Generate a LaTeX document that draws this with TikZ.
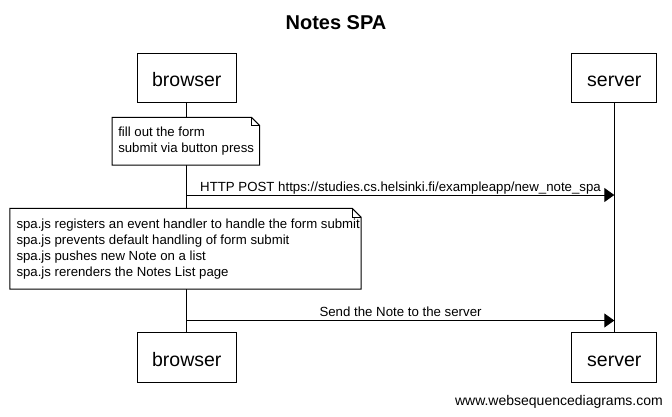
\documentclass[tikz,border=0pt]{standalone}
\usepackage{fontspec}
\setmainfont{Liberation Sans}
\usetikzlibrary{arrows.meta,calc}
\begin{document}
\begin{tikzpicture}[x=1pt,y=-1pt,
  actor/.style={draw,line width=1pt,minimum height=49.5pt,inner sep=0pt,
    text height=17pt,text depth=0pt,font=\fontsize{19.5}{22}\selectfont,fill=white},
  notebg/.style={inner sep=0pt},
  noteshape/.style={draw,line width=1pt,fill=white,line join=miter},
  notetext/.style={inner sep=0pt,align=left,anchor=west,font=\fontsize{13.2}{16}\selectfont},
  msg/.style={line width=1pt,-{Triangle[length=10pt,width=14pt]}},
  lbl/.style={font=\fontsize{13.25}{15}\selectfont,inner sep=0pt,anchor=base,yshift=4pt},
  life/.style={line width=1pt}]
\useasboundingbox (0,0) rectangle (672,416);
\fill[white] (0,0) rectangle (672,416);

\node[font=\bfseries\fontsize{20}{24}\selectfont,inner sep=0pt] (title) at (336,22.5) {Notes SPA};

\node[actor,minimum width=99.5pt] (bt) at (186.75,77.75) {browser};
\node[actor,minimum width=85.3pt] (st) at (614.3,77.75) {server};
\node[actor,minimum width=99.5pt] (bb) at (186.75,357.5) {browser};
\node[actor,minimum width=85.3pt] (sb) at (614.3,357.5) {server};

\draw[life] (bt.south) -- (bb.north);
\draw[life] (st.south) -- (sb.north);

% note 1
\node[notebg,minimum width=147pt,minimum height=47.3pt] (n1) at (185.8,141.3) {};
\draw[noteshape] (n1.north west) -- ($(n1.north east)+(-8,0)$) -- ($(n1.north east)+(0,8)$)
  -- (n1.south east) -- (n1.south west) -- cycle;
\draw[line width=0.8pt] ($(n1.north east)+(-8,0)$) -- ($(n1.north east)+(-8,8)$) -- ($(n1.north east)+(0,8)$);
\node[notetext] (n1t) at ($(n1.west)+(6,0)$) {fill out the form\\submit via button press};

% message 1
\coordinate (m1s) at (186.75,195);
\coordinate (m1e) at (614.3,195);
\draw[msg] (m1s) -- node[lbl] (m1l) {HTTP POST https://studies.cs.helsinki.fi/exampleapp/new\_note\_spa} (m1e);

% note 2
\node[notebg,minimum width=351pt,minimum height=80.5pt] (n2) at (185.5,248.75) {};
\draw[noteshape] (n2.north west) -- ($(n2.north east)+(-9,0)$) -- ($(n2.north east)+(0,9)$)
  -- (n2.south east) -- (n2.south west) -- cycle;
\draw[line width=0.8pt] ($(n2.north east)+(-9,0)$) -- ($(n2.north east)+(-9,9)$) -- ($(n2.north east)+(0,9)$);
\node[notetext] (n2t) at ($(n2.west)+(6.5,0)$) {spa.js registers an event handler to handle the form submit\\
spa.js prevents default handling of form submit\\
spa.js pushes new Note on a list\\
spa.js rerenders the Notes List page};

% message 2
\coordinate (m2s) at (186.75,320.5);
\coordinate (m2e) at (614.3,320.5);
\draw[msg] (m2s) -- node[lbl] (m2l) {Send the Note to the server} (m2e);

\node[font=\fontsize{14}{16}\selectfont,inner sep=0pt,anchor=base east] (wsd) at (663,405.5) {www.websequencediagrams.com};
\end{tikzpicture}
\end{document}
